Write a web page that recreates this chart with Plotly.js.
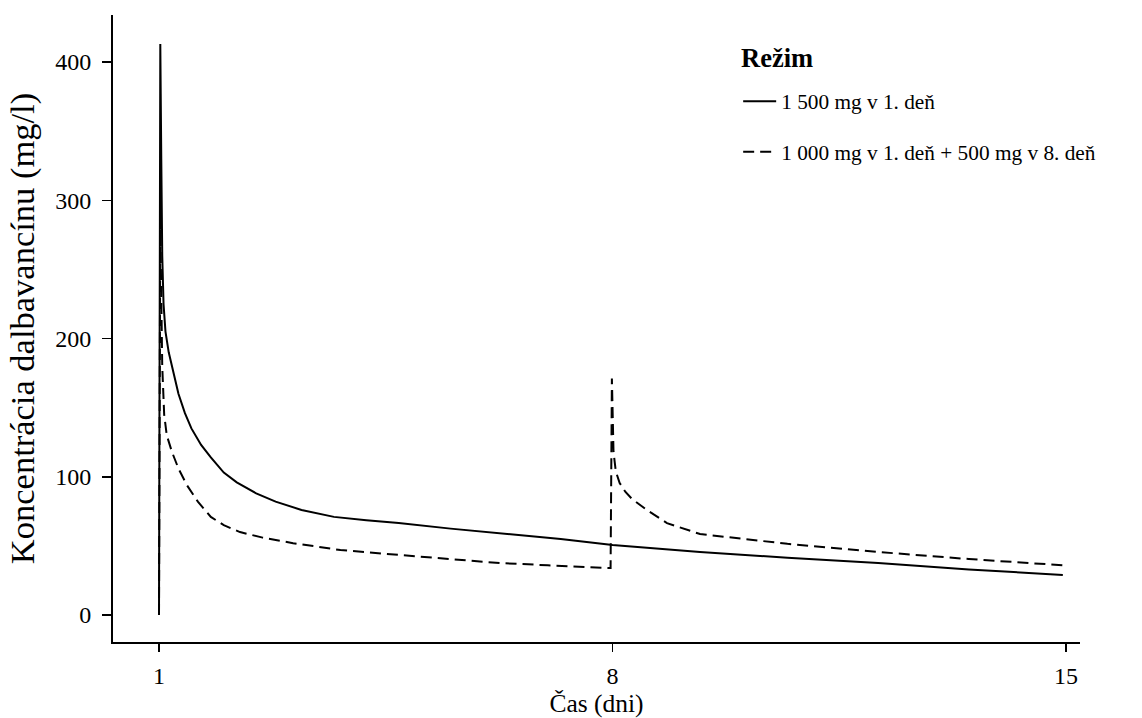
<!DOCTYPE html>
<html>
<head>
<meta charset="utf-8">
<script src="https://cdn.plot.ly/plotly-3.0.1.min.js"></script>
<style>html,body{margin:0;padding:0;background:#fff;}#chart{width:1142px;height:718px;}</style>
</head>
<body>
<div id="chart"></div>
<script>
// Režim 1: 1 500 mg v 1. deň
const dayA = [1.0, 1.02, 1.035, 1.05, 1.07, 1.1, 1.15, 1.22, 1.3, 1.4, 1.5, 1.65, 1.8, 2.0, 2.2, 2.5, 2.8, 3.2, 3.7, 4.2, 4.7, 5.5, 6.3, 7.2, 8.0, 9.35, 10.7, 12.1, 13.5, 14.95];
const concA = [0, 413, 330, 260, 225, 205, 190, 175, 160, 146, 135, 123, 114, 103, 96, 88, 82, 76, 71, 68.5, 66.5, 62.5, 59, 55, 50.6, 45.6, 41.5, 37.6, 33, 29];
// Režim 2: 1 000 mg v 1. deň + 500 mg v 8. deň
const dayB = [1.0, 1.02, 1.035, 1.05, 1.08, 1.12, 1.2, 1.3, 1.43, 1.6, 1.8, 2.0, 2.25, 2.6, 3.07, 3.8, 4.72, 5.5, 6.26, 7.0, 7.97, 7.99, 8.0, 8.015, 8.05, 8.11, 8.2, 8.3, 8.53, 8.84, 9.35, 10.7, 12.1, 13.5, 14.95];
const concB = [0, 285, 230, 180, 145, 130, 118, 106, 94, 82, 71, 65, 60, 56, 52, 47, 43.4, 40.5, 37.6, 36, 34, 171, 150, 118, 104, 95.5, 89, 84, 76, 66.5, 58.6, 51.5, 45.6, 40.5, 36];

const names = ["1 500 mg v 1. deň", "1 000 mg v 1. deň + 500 mg v 8. deň"];
const legendTitle = "Režim";
const xTicks = [1, 8, 15];
const yTicks = [0, 100, 200, 300, 400];

const font = "Liberation Serif, Times New Roman, serif";

const traces = [
  {x: dayA, y: concA, name: names[0], type: "scatter", mode: "lines", legendgroup: "a",
   line: {color: "#000", width: 2, dash: "solid"}},
  {x: dayB, y: concB, name: names[1], type: "scatter", mode: "lines", legendgroup: "b",
   line: {color: "#000", width: 2, dash: "11px,6px"}}
];

const layout = {
  width: 1142, height: 718,
  margin: {l: 113, r: 62, t: 15, b: 76},
  paper_bgcolor: "#fff", plot_bgcolor: "#fff",
  font: {family: font, color: "#000", size: 22},
  showlegend: true,
  legend: {
    x: 0.6465, y: 0.895, xanchor: "left", yanchor: "top",
    font: {size: 21.3, family: font},
    tracegroupgap: 20, traceorder: "grouped", itemwidth: 33,
    bgcolor: "rgba(0,0,0,0)"
  },
  annotations: [{
    text: "<b>" + legendTitle + "</b>", xref: "paper", yref: "paper",
    x: (739 - 113) / 967, y: (642 - 58) / 627, xanchor: "left", yanchor: "middle",
    showarrow: false, font: {size: 26.5, family: font, color: "#000"}
  }],
  xaxis: {
    range: [0.29, 15.215], tickvals: xTicks, ticktext: xTicks.map(String),
    showgrid: false, zeroline: false, showline: true, linecolor: "#000", linewidth: 2,
    ticks: "outside", ticklen: 8, tickwidth: 1.5, tickcolor: "#000",
    tickfont: {size: 24, family: font}, ticklabelstandoff: 3,
    title: {text: "Čas (dni)", font: {size: 25.5, family: font}, standoff: 0}
  },
  yaxis: {
    range: [-19.5, 434], tickvals: yTicks, ticktext: yTicks.map(String),
    showgrid: false, zeroline: false, showline: true, linecolor: "#000", linewidth: 2,
    ticks: "outside", ticklen: 9, tickwidth: 1.5, tickcolor: "#000",
    tickfont: {size: 24, family: font}, ticklabelstandoff: 6,
    title: {text: "Koncentrácia dalbavancínu (mg/l)", font: {size: 34.5, family: font}, standoff: 10}
  }
};

Plotly.newPlot("chart", traces, layout, {displayModeBar: false, staticPlot: true});
</script>
</body>
</html>
